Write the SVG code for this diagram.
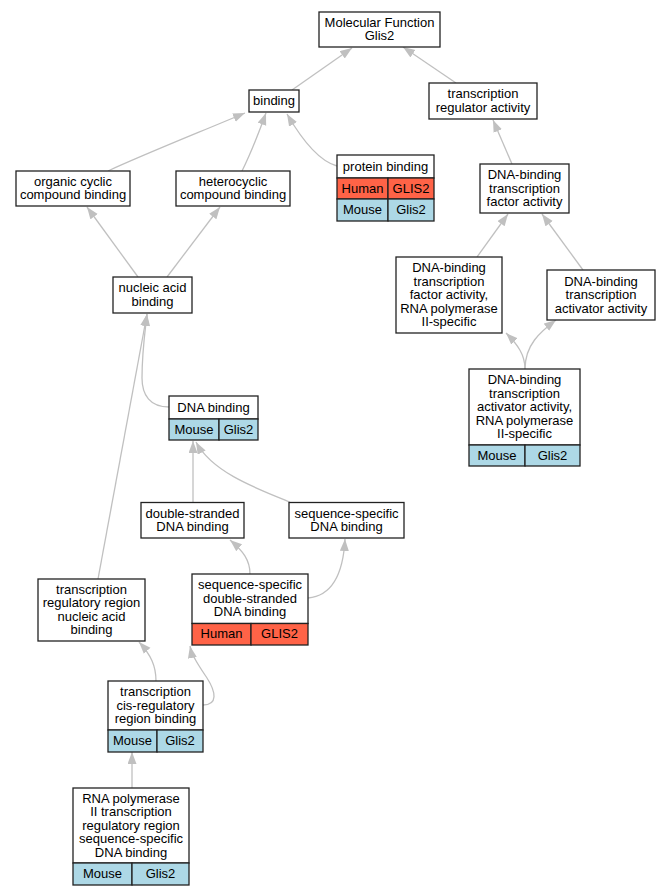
<svg xmlns="http://www.w3.org/2000/svg" width="671" height="896" viewBox="0 0 671 896">
<style>
.b{fill:#fff;stroke:#222;stroke-width:1.3}
.h{fill:#ff6347;stroke:#222;stroke-width:1.3}
.m{fill:#add8e6;stroke:#222;stroke-width:1.3}
text{font-family:"Liberation Sans",Arial,sans-serif;font-size:13px;fill:#000;text-anchor:middle}
.e path{fill:none;stroke:#c0c0c0;stroke-width:1.3;marker-end:url(#a)}
</style>
<defs>
<marker id="a" markerUnits="userSpaceOnUse" markerWidth="13" markerHeight="10" refX="12" refY="4.5" orient="auto">
<path d="M0,0 L12,4.5 L0,9 z" fill="#c0c0c0"/>
</marker>
</defs>
<rect width="671" height="896" fill="#fff"/>
<g class="e" id="edges">
<path d="M292,90 L352,48"/>
<path d="M456,83 L403,47"/>
<path d="M108,171 C140,156 200,132 245,113"/>
<path d="M242,171 C250,155 258,135 266,113"/>
<path d="M337,166 C322,162 305,145 287,114"/>
<path d="M512,164 L493,120"/>
<path d="M477,257 L508,214"/>
<path d="M583,270 L542,214"/>
<path d="M525,369 C525,355 518,345 506,333"/>
<path d="M525,369 C525,345 540,332 556,320"/>
<path d="M138,277 L87,207"/>
<path d="M167,277 L220,207"/>
<path d="M169,407 C150,407 142,395 142,378 C142,352 145,332 147,314"/>
<path d="M98,579 L147,314"/>
<path d="M193,502 L193,441"/>
<path d="M290,502 C255,488 212,472 196,442"/>
<path d="M250,574 C250,560 243,551 230,540"/>
<path d="M308,598 C330,596 343,578 345,539"/>
<path d="M156,681 C156,666 151,655 139,642"/>
<path d="M203,705 C218,705 216,692 207,678 C199,666 192,656 190,646"/>
<path d="M132,788 L132,752"/>
</g>
<g id="n_mf"><rect class="b" x="319" y="12" width="121" height="35"/><text x="379.5" y="26.75">Molecular Function</text><text x="379.5" y="40.25">Glis2</text></g>
<g id="n_binding"><rect class="b" x="249" y="90" width="50" height="22"/><text x="274" y="105">binding</text></g>
<g id="n_tra"><rect class="b" x="429" y="83" width="108" height="36"/><text x="483" y="98.25">transcription</text><text x="483" y="111.75">regulator activity</text></g>
<g id="n_occ"><rect class="b" x="16" y="171" width="114" height="35"/><text x="73" y="185.75">organic cyclic</text><text x="73" y="199.25">compound binding</text></g>
<g id="n_hcc"><rect class="b" x="176" y="171" width="114" height="35"/><text x="233" y="185.75">heterocyclic</text><text x="233" y="199.25">compound binding</text></g>
<g id="n_pb"><rect class="b" x="337" y="155" width="97" height="23"/><rect class="h" x="337" y="178" width="51" height="21"/><rect class="h" x="388" y="178" width="46" height="21"/><rect class="m" x="337" y="199" width="51" height="22"/><rect class="m" x="388" y="199" width="46" height="22"/><text x="385.5" y="170.5">protein binding</text><text x="362.5" y="192.5">Human</text><text x="411" y="192.5">GLIS2</text><text x="362.5" y="214">Mouse</text><text x="411" y="214">Glis2</text></g>
<g id="n_dbtfa"><rect class="b" x="480" y="164" width="89" height="49"/><text x="524.5" y="179">DNA-binding</text><text x="524.5" y="192.5">transcription</text><text x="524.5" y="206">factor activity</text></g>
<g id="n_tfpol"><rect class="b" x="396" y="257" width="106" height="76"/><text x="449" y="272">DNA-binding</text><text x="449" y="285.5">transcription</text><text x="449" y="299">factor activity,</text><text x="449" y="312.5">RNA polymerase</text><text x="449" y="326">II-specific</text></g>
<g id="n_act"><rect class="b" x="547" y="270" width="108" height="50"/><text x="601" y="285.5">DNA-binding</text><text x="601" y="299">transcription</text><text x="601" y="312.5">activator activity</text></g>
<g id="n_actpol"><rect class="b" x="469" y="369" width="111" height="76"/><rect class="m" x="469" y="445" width="56" height="21"/><rect class="m" x="525" y="445" width="55" height="21"/><text x="524.5" y="384">DNA-binding</text><text x="524.5" y="397.5">transcription</text><text x="524.5" y="411">activator activity,</text><text x="524.5" y="424.5">RNA polymerase</text><text x="524.5" y="438">II-specific</text><text x="497" y="459.5">Mouse</text><text x="552.5" y="459.5">Glis2</text></g>
<g id="n_nab"><rect class="b" x="113" y="277" width="79" height="36"/><text x="152.5" y="292.25">nucleic acid</text><text x="152.5" y="305.75">binding</text></g>
<g id="n_dna"><rect class="b" x="169" y="396" width="89" height="23"/><rect class="m" x="169" y="419" width="50" height="21"/><rect class="m" x="219" y="419" width="39" height="21"/><text x="213.5" y="411.5">DNA binding</text><text x="194" y="433.5">Mouse</text><text x="238.5" y="433.5">Glis2</text></g>
<g id="n_ds"><rect class="b" x="141" y="502.5" width="103" height="35.5"/><text x="192.5" y="517.5">double-stranded</text><text x="192.5" y="531">DNA binding</text></g>
<g id="n_ss"><rect class="b" x="289" y="502.5" width="115" height="35.5"/><text x="346.5" y="517.5">sequence-specific</text><text x="346.5" y="531">DNA binding</text></g>
<g id="n_ssds"><rect class="b" x="192" y="574" width="116" height="49.5"/><rect class="h" x="192" y="623.5" width="59" height="21.5"/><rect class="h" x="251" y="623.5" width="57" height="21.5"/><text x="250" y="589.25">sequence-specific</text><text x="250" y="602.75">double-stranded</text><text x="250" y="616.25">DNA binding</text><text x="221.5" y="638.25">Human</text><text x="279.5" y="638.25">GLIS2</text></g>
<g id="n_trr"><rect class="b" x="38" y="579" width="107" height="62"/><text x="91.5" y="593.75">transcription</text><text x="91.5" y="607.25">regulatory region</text><text x="91.5" y="620.75">nucleic acid</text><text x="91.5" y="634.25">binding</text></g>
<g id="n_cis"><rect class="b" x="108" y="681" width="95" height="49"/><rect class="m" x="108" y="730" width="49" height="22"/><rect class="m" x="157" y="730" width="46" height="22"/><text x="155.5" y="696">transcription</text><text x="155.5" y="709.5">cis-regulatory</text><text x="155.5" y="723">region binding</text><text x="132.5" y="745">Mouse</text><text x="180" y="745">Glis2</text></g>
<g id="n_rnap"><rect class="b" x="73" y="788" width="116" height="75"/><rect class="m" x="73" y="863" width="59" height="22"/><rect class="m" x="132" y="863" width="57" height="22"/><text x="131" y="802.5">RNA polymerase</text><text x="131" y="816">II transcription</text><text x="131" y="829.5">regulatory region</text><text x="131" y="843">sequence-specific</text><text x="131" y="856.5">DNA binding</text><text x="102.5" y="878">Mouse</text><text x="160.5" y="878">Glis2</text></g>
</svg>
